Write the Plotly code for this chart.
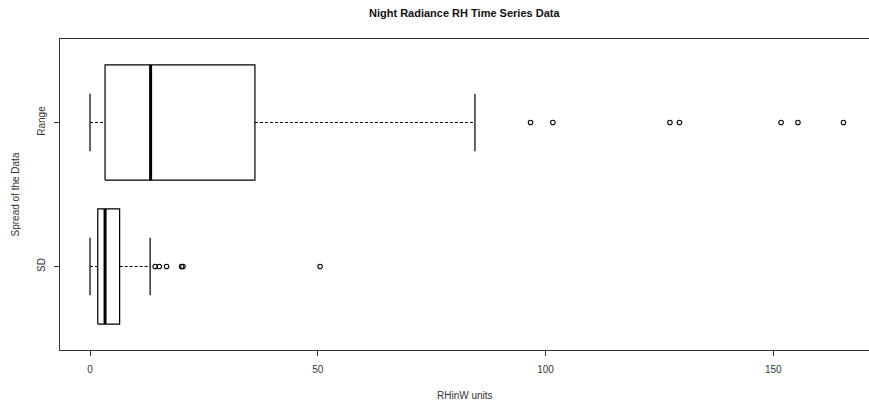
import plotly.graph_objects as go

# ---- data ----
categories = ["SD", "Range"]
q1 = [1.7, 3.3]
median = [3.3, 13.3]
q3 = [6.5, 36.2]
lower_whisker = [0.0, 0.0]
upper_whisker = [13.2, 84.5]
outliers_sd = [14.3, 15.2, 16.8, 20.1, 20.4, 50.5]
outliers_range = [96.7, 101.6, 127.3, 129.4, 151.7, 155.4, 165.4]
outliers = [outliers_sd, outliers_range]
x_ticks = [0, 50, 100, 150]

half_w = 0.4
staple = 0.2
fig = go.Figure()
line_col = "#000000"

for i, cat in enumerate(categories):
    p = i + 1
    # box
    fig.add_trace(go.Scatter(
        x=[q1[i], q3[i], q3[i], q1[i], q1[i]],
        y=[p - half_w, p - half_w, p + half_w, p + half_w, p - half_w],
        mode="lines", line=dict(color=line_col, width=1.2), hoverinfo="skip"))
    # median
    fig.add_trace(go.Scatter(
        x=[median[i], median[i]], y=[p - half_w, p + half_w],
        mode="lines", line=dict(color=line_col, width=3), hoverinfo="skip"))
    # whiskers
    fig.add_trace(go.Scatter(
        x=[lower_whisker[i], q1[i]], y=[p, p],
        mode="lines", line=dict(color=line_col, width=1, dash="3px,2px"), hoverinfo="skip"))
    fig.add_trace(go.Scatter(
        x=[q3[i], upper_whisker[i]], y=[p, p],
        mode="lines", line=dict(color=line_col, width=1, dash="3px,2px"), hoverinfo="skip"))
    # staples
    for w in (lower_whisker[i], upper_whisker[i]):
        fig.add_trace(go.Scatter(
            x=[w, w], y=[p - staple, p + staple],
            mode="lines", line=dict(color=line_col, width=1.2), hoverinfo="skip"))
    # outliers
    fig.add_trace(go.Scatter(
        x=outliers[i], y=[p] * len(outliers[i]), mode="markers",
        marker=dict(symbol="circle-open", size=4.5, color=line_col, line=dict(width=1.1)),
        hoverinfo="skip"))

tick_font = dict(family="Liberation Sans, Arial, sans-serif", size=10, color="#333")

fig.update_layout(
    width=869, height=404,
    margin=dict(l=60, r=0, t=39, b=54),
    plot_bgcolor="white", paper_bgcolor="white",
    showlegend=False,
    xaxis=dict(
        range=[-6.59, 171.0], tickvals=x_ticks, ticktext=[str(v) for v in x_ticks],
        showgrid=False, zeroline=False, showline=True, mirror=True,
        linecolor="#333", linewidth=1, ticks="outside", ticklen=5,
        tickcolor="#333", tickfont=tick_font, ticklabelstandoff=5),
    yaxis=dict(
        range=[0.42, 2.58], tickvals=[1, 2], ticktext=categories,
        tickangle=-90, showgrid=False, zeroline=False, showline=True, mirror=True,
        linecolor="#333", linewidth=1, ticks="outside", ticklen=5,
        tickcolor="#333", tickfont=tick_font, ticklabelstandoff=5),
    annotations=[
        dict(text="<b>Night Radiance RH Time Series Data</b>", xref="paper", yref="paper",
             x=0.5, y=1, yshift=26, xanchor="center", yanchor="middle", showarrow=False,
             font=dict(family="Liberation Sans, Arial, sans-serif", size=11, color="#111")),
        dict(text="RHinW units", xref="paper", yref="paper",
             x=0.5, y=0, yshift=-45, xanchor="center", yanchor="middle", showarrow=False,
             font=dict(family="Liberation Sans, Arial, sans-serif", size=10, color="#333")),
        dict(text="Spread of the Data", xref="paper", yref="paper",
             x=-0.0544, y=0.5, xanchor="center", yanchor="middle", showarrow=False,
             textangle=-90,
             font=dict(family="Liberation Sans, Arial, sans-serif", size=10, color="#333")),
    ],
)

fig.write_html(
    "out.html",
    config={"displayModeBar": False},
    post_script="document.body.style.margin='0';document.body.style.padding='0';"
                "document.body.style.overflow='hidden';",
)
